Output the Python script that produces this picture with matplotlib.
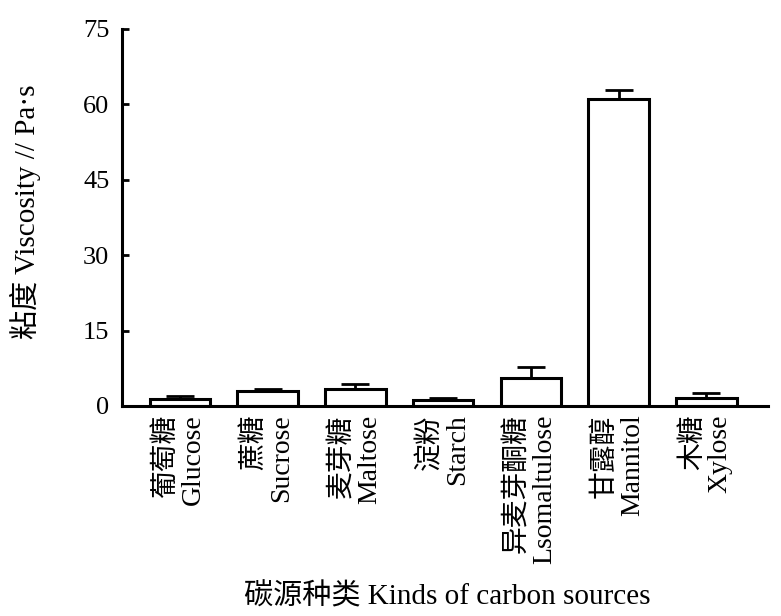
import matplotlib.pyplot as plt
import numpy as np

plt.rcParams["font.family"] = ["Liberation Serif", "Noto Sans CJK SC"]

# carbon sources, Chinese and English names
names_cn = ["葡萄糖", "蔗糖", "麦芽糖", "淀粉", "异麦芽酮糖", "甘露醇", "木糖"]
names_en = ["Glucose", "Sucrose", "Maltose", "Starch", "Lsomaltulose", "Mannitol", "Xylose"]

# viscosity (Pa·s) and its standard deviation
viscosity = [1.3, 3.0, 3.3, 1.2, 5.6, 61.0, 1.65]
viscosity_sd = [0.7, 0.4, 1.1, 0.4, 2.1, 1.8, 0.85]

y_ticks = [0, 15, 30, 45, 60, 75]


def main() -> None:
    fig = plt.figure(figsize=(7.81, 6.16), dpi=100)
    ax = fig.add_axes([0.156, 0.341, 0.827, 0.612])

    x = np.arange(len(viscosity))
    lower = np.zeros(len(viscosity))
    ax.bar(x, viscosity, width=0.69, color="white", edgecolor="black",
           linewidth=2.2, zorder=2)
    ax.errorbar(x, viscosity, yerr=[lower, viscosity_sd], fmt="none",
                ecolor="black", elinewidth=2.0, capsize=10, capthick=2.0,
                zorder=1)

    ax.set_xlim(-0.663, 6.70)
    ax.set_ylim(0, 75)
    ax.set_yticks(y_ticks)
    ax.set_xticks(x)
    labels = [f"{cn}\n{en}" for cn, en in zip(names_cn, names_en)]
    ax.set_xticklabels(labels, rotation=90, ha="center", va="top",
                       multialignment="right", fontsize=20, linespacing=1.1)

    for side in ("top", "right"):
        ax.spines[side].set_visible(False)
    for side in ("left", "bottom"):
        ax.spines[side].set_linewidth(2.2)

    ax.tick_params(axis="y", direction="in", length=5, width=2.0,
                   labelsize=19, pad=9)
    ax.tick_params(axis="x", length=0, pad=6)

    fig.text(25 / 781, 1 - 212 / 616, "粘度 Viscosity // Pa·s",
             rotation=90, ha="center", va="center", fontsize=21)
    fig.text(447 / 781, 1 - 597 / 616, "碳源种类 Kinds of carbon sources",
             ha="center", va="center", fontsize=21)

    fig.savefig("out.png", dpi=100)


if __name__ == "__main__":
    main()
